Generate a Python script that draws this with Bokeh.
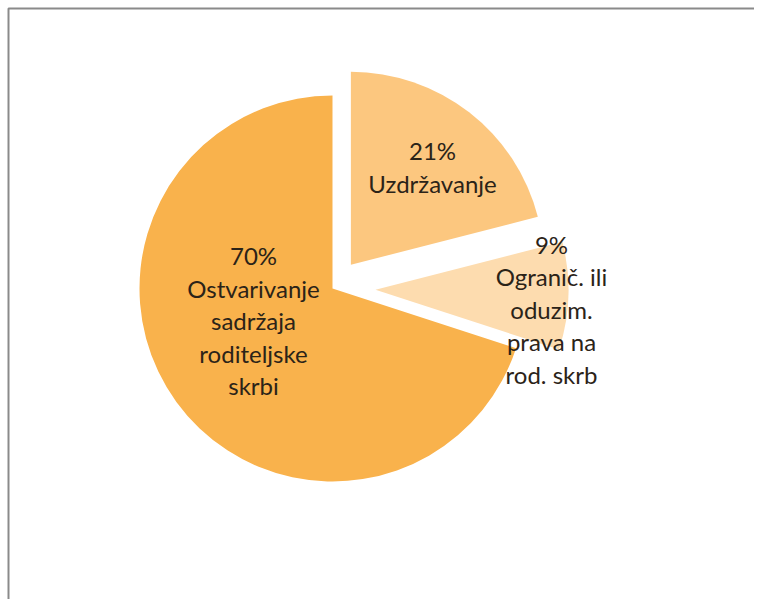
import math
from bokeh.plotting import figure
from bokeh.models import Range1d, BoxAnnotation, ColumnDataSource
from bokeh.embed import file_html
from bokeh.resources import INLINE
from bokeh.core.properties import value

# ---- data ----
categories = ["Uzdržavanje",
              "Ograničenje ili oduzimanje prava na roditeljsku skrb",
              "Ostvarivanje sadržaja roditeljske skrbi"]
shares = [21, 9, 70]
label_text = [["Uzdržavanje"],
              ["Ogranič. ili", "oduzim.", "prava na", "rod. skrb"],
              ["Ostvarivanje", "sadržaja", "roditeljske", "skrbi"]]
colors = ["#FCC77F", "#FDDCAF", "#F9B24C"]

# ---- layout (pixels) ----
W, H = 754, 599
cx, cy = 332, 319          # pie centre
R = 193                    # radius
explode = [30, 43, 0]      # slice offsets
label_pos = [(432, 440.5), (551, 298.5), (253, 287)]  # label block centres
line_gap = 32.5
font = "Lato"
font_size = "24px"

p = figure(width=W, height=H, output_backend="svg", toolbar_location=None,
           x_range=Range1d(0, W), y_range=Range1d(607 - H, 607), min_border=0,
           background_fill_color="white", border_fill_color="white")
p.axis.visible = False
p.grid.visible = False
p.outline_line_color = None

total = sum(shares)
cum = 0
xs, ys, starts, ends = [], [], [], []
for v, e in zip(shares, explode):
    a_start = math.pi / 2 - 2 * math.pi * (cum + v) / total
    a_end = math.pi / 2 - 2 * math.pi * cum / total
    mid = (a_start + a_end) / 2
    xs.append(cx + e * math.cos(mid))
    ys.append(cy + e * math.sin(mid))
    starts.append(a_start)
    ends.append(a_end)
    cum += v

src = ColumnDataSource(dict(x=xs, y=ys, start=starts, end=ends, color=colors, cat=categories))
p.wedge(x="x", y="y", radius=R, start_angle="start", end_angle="end",
        direction="anticlock", fill_color="color", line_color=None, source=src)

tx, ty, tt = [], [], []
for v, lines, (lx, ly) in zip(shares, label_text, label_pos):
    all_lines = [f"{v}%"] + lines
    n = len(all_lines)
    for i, s in enumerate(all_lines):
        tx.append(lx)
        ty.append(ly + (n - 1) / 2 * line_gap - i * line_gap)
        tt.append(s)

p.text(x=tx, y=ty, text=tt, text_align="center", text_baseline="middle",
       text_font=value(font), text_font_size=font_size, text_color="#2b2318")

# chart frame: its right and bottom edges lie outside the picture
p.add_layout(BoxAnnotation(left=8, top=607 - 8, right=W + 40, bottom=-40,
                           fill_color=None, fill_alpha=0,
                           line_color="#8a8a8a", line_width=2, line_alpha=1))

open("out.html", "w").write(file_html(p, INLINE))
